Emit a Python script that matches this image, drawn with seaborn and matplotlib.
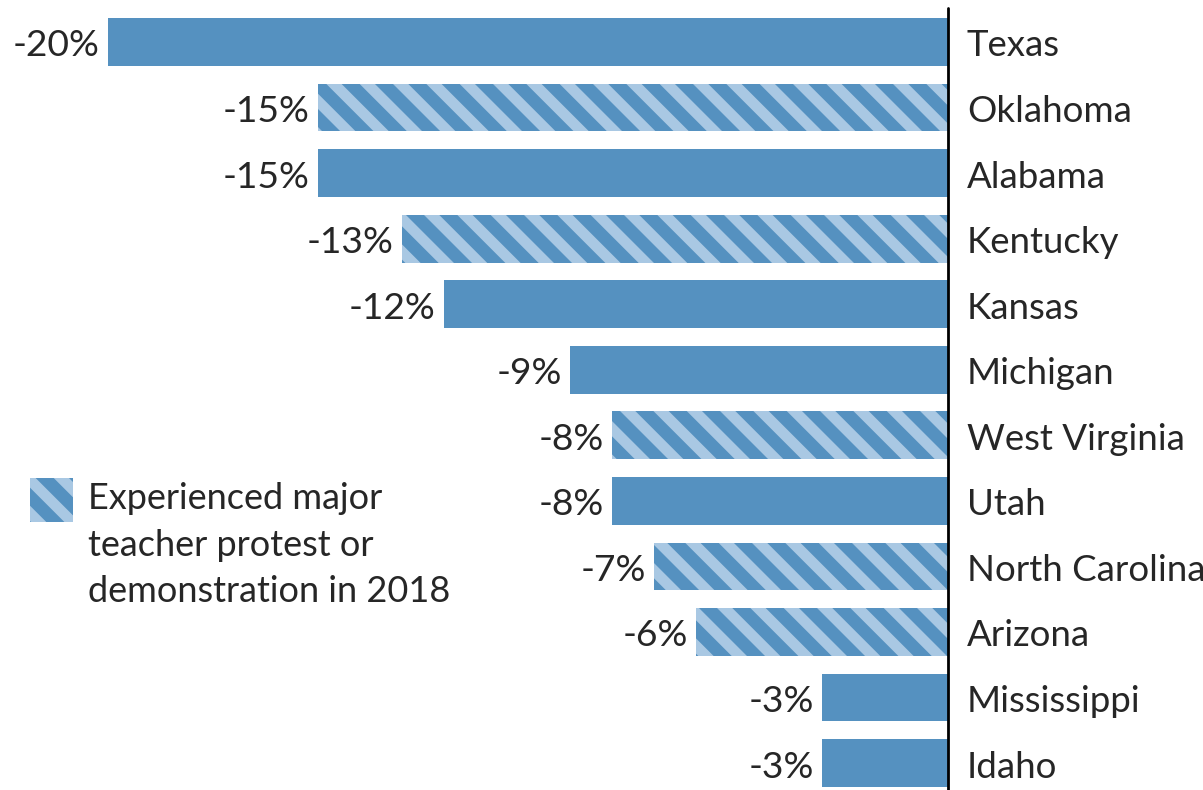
import numpy as np
import pandas as pd
import matplotlib
matplotlib.use("Agg")
import matplotlib.pyplot as plt
import seaborn as sns
from matplotlib.patches import Rectangle

states = ["Texas", "Oklahoma", "Alabama", "Kentucky", "Kansas", "Michigan",
          "West Virginia", "Utah", "North Carolina", "Arizona", "Mississippi", "Idaho"]
changes = [-20, -15, -15, -13, -12, -9, -8, -8, -7, -6, -3, -3]
protest = [False, True, False, True, False, False, True, False, True, True, False, False]

dark = "#5591c0"
light = "#a9c8e3"
ink = "#262626"

sns.set_style("white")
plt.rcParams["font.family"] = ["Lato", "DejaVu Sans"]
plt.rcParams["hatch.linewidth"] = 4.6

df = pd.DataFrame({"state": states, "change": changes, "protest": protest})

fig = plt.figure(figsize=(6.015, 3.95), dpi=200)
ax = fig.add_axes([0, 0, 1, 1])
sns.barplot(data=df, x="change", y="state", color=dark, saturation=1,
            width=0.73, orient="h", ax=ax)

for bar, p in zip(ax.patches, df.protest):
    bar.set_linewidth(0)
    if p:
        bar.set_facecolor(light)
        bar.set_edgecolor(dark)
        bar.set_hatch("\\\\")

ax.set_xlim(-22.57, 6.07)
ax.set_ylim(11.41, -0.64)
ax.axvline(0, ymin=0, ymax=0.99, color="black", lw=1.0)

fs = 13.2
for i, (s, v) in enumerate(zip(states, changes)):
    ax.text(0.45, i + 0.06, s, ha="left", va="center", fontsize=fs, color=ink)
    ax.text(v - 0.2, i + 0.06, f"{v}%", ha="right", va="center", fontsize=13.4,
            color=ink)

ax.axis("off")

# legend
W, H = 1203, 790
fig.patches.append(Rectangle((30 / W, 1 - 522 / H), 43 / W, 44 / H,
                             transform=fig.transFigure, facecolor=light,
                             edgecolor=dark, hatch="\\\\", linewidth=0))
fig.text(88 / W, 1 - 482 / H, "Experienced major\nteacher protest or\ndemonstration in 2018",
         ha="left", va="top", fontsize=13.0, color=ink, linespacing=1.5)

fig.savefig("out.png", dpi=200)
